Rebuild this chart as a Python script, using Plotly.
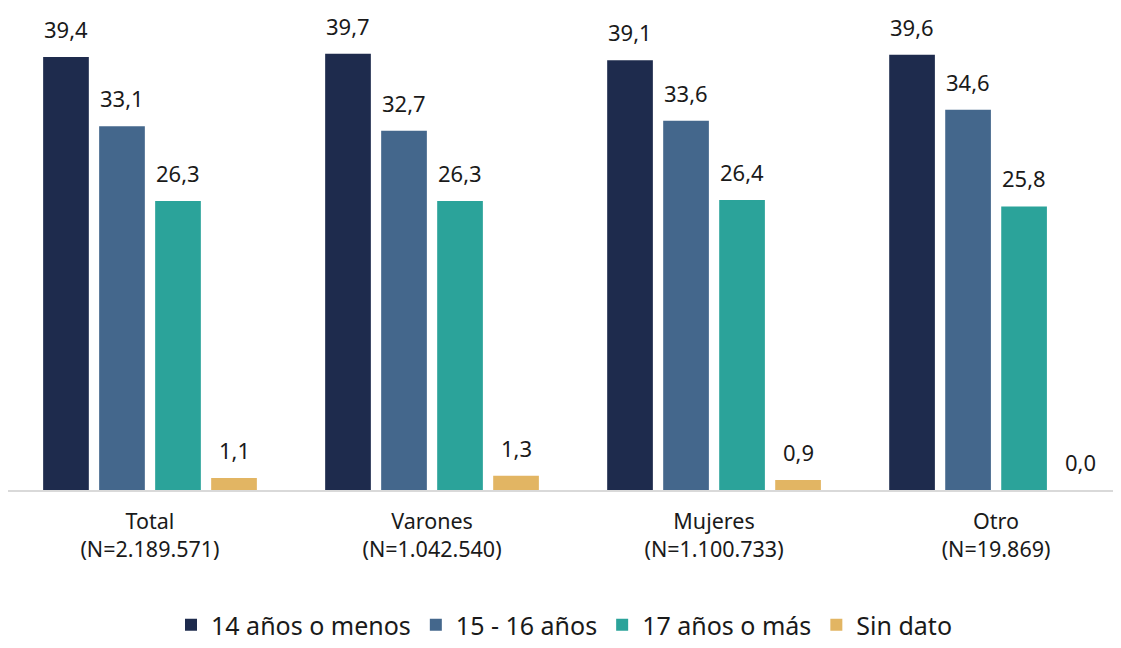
import plotly.graph_objects as go

categories = ["Total<br>(N=2.189.571)", "Varones<br>(N=1.042.540)",
              "Mujeres<br>(N=1.100.733)", "Otro<br>(N=19.869)"]
series_names = ["14 años o menos", "15 - 16 años", "17 años o más", "Sin dato"]
v_14_menos = [39.4, 39.7, 39.1, 39.6]
v_15_16 = [33.1, 32.7, 33.6, 34.6]
v_17_mas = [26.3, 26.3, 26.4, 25.8]
v_sin_dato = [1.1, 1.3, 0.9, 0.0]
series_values = [v_14_menos, v_15_16, v_17_mas, v_sin_dato]
colors = ["#1E2B4D", "#44678C", "#2BA39A", "#E2B563"]

FONT = "Noto Sans"
pitch = 0.1986
width = 0.162

fig = go.Figure()
annotations = []
for j, (name, vals, col) in enumerate(zip(series_names, series_values, colors)):
    xs = [i + (j - 1.5) * pitch for i in range(len(categories))]
    fig.add_trace(go.Bar(x=xs, y=vals, name=name, width=width,
                         marker=dict(color=col, line=dict(width=0)),
                         hoverinfo="y"))
    for x, v in zip(xs, vals):
        annotations.append(dict(x=x, y=v, xref="x", yref="y",
                                text=f"{v:.1f}".replace(".", ","),
                                showarrow=False, yanchor="middle", yshift=28,
                                font=dict(family=FONT, size=22, color="#1a1a1a")))

fig.update_layout(
    width=1113, height=640,
    margin=dict(l=0, r=0, t=0, b=158),
    paper_bgcolor="white", plot_bgcolor="white",
    font=dict(family=FONT, size=21, color="#1a1a1a"),
    showlegend=True,
    legend=dict(orientation="h", x=0.5, xanchor="center",
                yref="container", y=0.0, yanchor="bottom",
                font=dict(family=FONT, size=25, color="#1a1a1a"),
                itemsizing="constant", traceorder="normal"),
    annotations=annotations,
)
fig.update_xaxes(range=[-0.5035, 3.443], tickvals=list(range(len(categories))),
                 ticktext=categories, showgrid=False, zeroline=False,
                 showline=True, linecolor="#D9D9D9", linewidth=1.5,
                 ticks="outside", ticklen=11, tickcolor="rgba(0,0,0,0)",
                 tickfont=dict(family=FONT, size=21.5, color="#1a1a1a"))
fig.update_yaxes(range=[0, 43.86], visible=False, showgrid=False, zeroline=False)

fig.write_html("out.html")
